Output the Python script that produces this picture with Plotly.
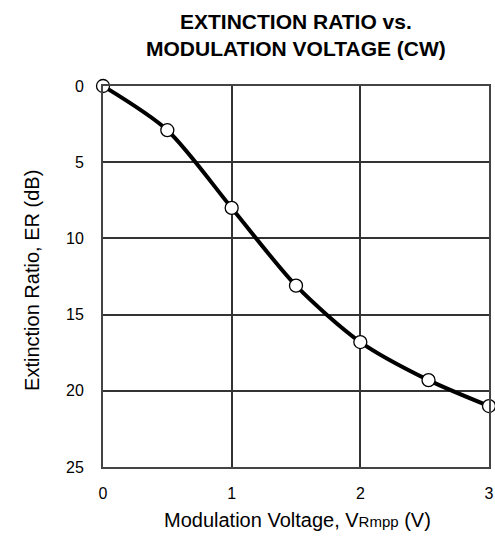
import plotly.graph_objects as go

voltage = [0, 0.5, 1.0, 1.5, 2.0, 2.53, 3.0]
extinction_ratio = [0, 2.9, 8.0, 13.1, 16.8, 19.3, 21.0]

x_ticks = [0, 1, 2, 3]
y_ticks = [0, 5, 10, 15, 20, 25]

title_text = "<b>EXTINCTION RATIO vs.<br>MODULATION VOLTAGE (CW)</b>"
x_title = 'Modulation Voltage, V<span style="font-size:15px">Rmpp</span> (V)'
y_title = "Extinction Ratio, ER (dB)"

FONT = "Liberation Sans, Arial, sans-serif"

fig = go.Figure()
fig.add_trace(go.Scatter(
    x=voltage, y=extinction_ratio,
    mode="lines+markers",
    line=dict(color="black", width=4, shape="spline", smoothing=0.8),
    marker=dict(symbol="circle", size=13, color="white",
                line=dict(color="black", width=1.3)),
    cliponaxis=False,
    showlegend=False,
    hoverinfo="skip",
))

fig.update_layout(
    width=495, height=539,
    margin=dict(l=103, r=6, t=86, b=72, autoexpand=False),
    paper_bgcolor="white", plot_bgcolor="white",
    font=dict(family=FONT, color="black"),
    xaxis=dict(
        range=[0, 3], tickvals=x_ticks, ticktext=[str(v) for v in x_ticks],
        showgrid=True, gridcolor="#333", gridwidth=1.5,
        showline=True, linecolor="#444", linewidth=2, mirror=True,
        zeroline=False, ticks="", ticklabelstandoff=11,
        tickfont=dict(size=16), automargin=False,
    ),
    yaxis=dict(
        range=[25, 0], tickvals=y_ticks, ticktext=[str(v) for v in y_ticks],
        showgrid=True, gridcolor="#333", gridwidth=1.5,
        showline=True, linecolor="#444", linewidth=2, mirror=True,
        zeroline=False, ticks="", ticklabelstandoff=14,
        tickfont=dict(size=16), automargin=False,
    ),
    annotations=[
        dict(text=title_text, xref="paper", yref="paper", x=0.501, y=1.134,
             xanchor="center", yanchor="middle", showarrow=False,
             font=dict(size=21, color="black", family=FONT)),
        dict(text=x_title, xref="paper", yref="paper", x=0.504, y=-0.139,
             xanchor="center", yanchor="middle", showarrow=False,
             font=dict(size=20, color="black", family=FONT)),
        dict(text=y_title, xref="paper", yref="paper", x=-0.184, y=0.491,
             xanchor="center", yanchor="middle", showarrow=False, textangle=-90,
             font=dict(size=20, color="black", family=FONT)),
    ],
)
fig.write_html(
    "out.html",
    config={"displayModeBar": False},
    post_script="document.body.style.margin='0px';document.body.style.overflow='hidden';",
)
